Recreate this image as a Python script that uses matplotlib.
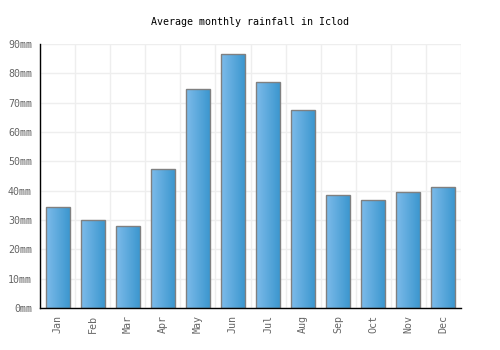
"""Average monthly rainfall bar chart for Iclod."""

import numpy as np
import matplotlib
matplotlib.use("Agg")
from matplotlib import pyplot as plt
from matplotlib.colors import LinearSegmentedColormap

MONTHS = ["Jan", "Feb", "Mar", "Apr", "May", "Jun",
          "Jul", "Aug", "Sep", "Oct", "Nov", "Dec"]
RAINFALL_MM = [34.3, 30.0, 27.9, 47.3, 74.6, 86.5,
               76.9, 67.5, 38.4, 36.7, 39.4, 41.3]
Y_TICKS = [0, 10, 20, 30, 40, 50, 60, 70, 80, 90]

FONT = "DejaVu Sans Mono"
GRADIENT = LinearSegmentedColormap.from_list("bar", ["#7dbbea", "#3c97cf"])


def main():
    fig = plt.figure(figsize=(5, 3.5), dpi=100)
    ax = fig.add_axes([0.0806, 0.12, 0.8408, 0.7543])

    x = np.arange(len(MONTHS))
    bars = ax.bar(x, RAINFALL_MM, width=0.67, facecolor="none",
                  edgecolor="#808080", linewidth=1.0, zorder=3)

    grad = np.linspace(0, 1, 64).reshape(1, -1)
    for bar in bars:
        x0, y0 = bar.get_x(), bar.get_y()
        w, h = bar.get_width(), bar.get_height()
        im = ax.imshow(grad, cmap=GRADIENT, aspect="auto",
                       extent=(x0, x0 + w, y0, y0 + h), zorder=2)
        im.set_clip_path(bar)

    ax.set_xlim(-0.5, len(MONTHS) - 0.5)
    ax.set_ylim(0, 90)
    ax.set_yticks(Y_TICKS)
    ax.set_yticklabels([f"{v}mm" for v in Y_TICKS], family=FONT,
                       fontsize=7.2, color="#666666")
    ax.set_xticks(x)
    ax.set_xticklabels(MONTHS, rotation=90, family=FONT,
                       fontsize=7.2, color="#666666")
    ax.set_xticks(np.arange(len(MONTHS) + 1) - 0.5, minor=True)

    ax.tick_params(axis="both", which="both", length=0)
    ax.tick_params(axis="y", pad=6)
    ax.tick_params(axis="x", pad=5)
    ax.grid(True, which="minor", axis="x", color="#eeeeee", linewidth=1)
    ax.grid(True, which="major", axis="y", color="#eeeeee", linewidth=1)
    ax.set_axisbelow(True)

    for side in ("top", "right"):
        ax.spines[side].set_visible(False)
    for side in ("left", "bottom"):
        ax.spines[side].set_color("black")
        ax.spines[side].set_linewidth(1.0)
        ax.spines[side].set_zorder(4)

    fig.text(0.5, 0.937, "Average monthly rainfall in Iclod", ha="center",
             va="center", family=FONT, fontsize=7.2, color="black")

    fig.savefig("out.png", dpi=100)


if __name__ == "__main__":
    main()
